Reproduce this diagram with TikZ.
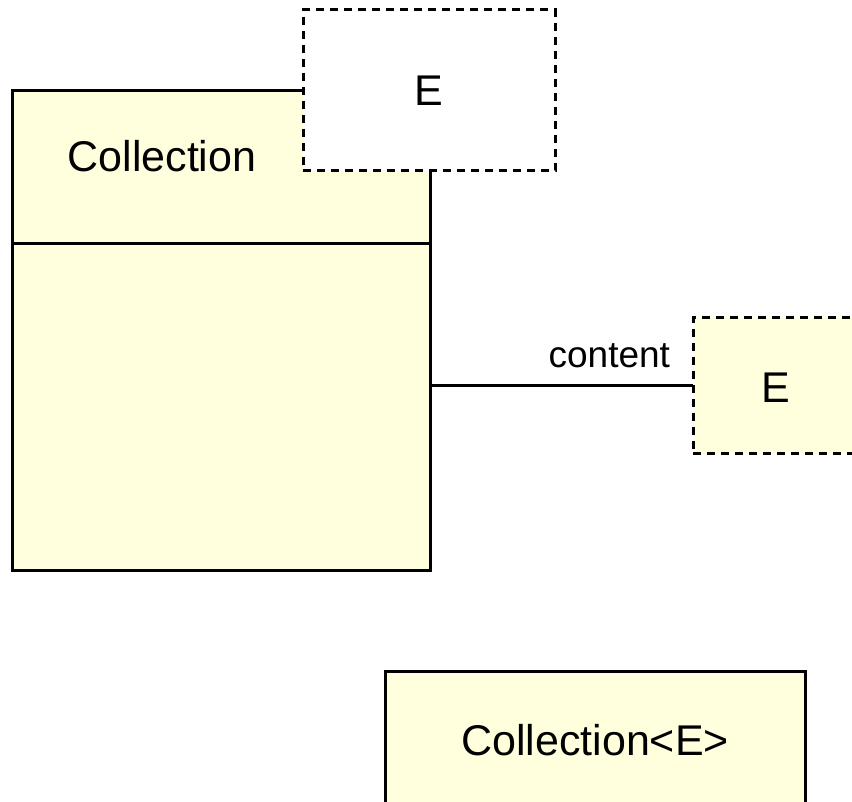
\documentclass[tikz,border=0pt]{standalone}
\usepackage{fontspec}
\setmainfont{Liberation Sans}
\definecolor{classfill}{RGB}{255,255,221}
\tikzset{
  umlbox/.style={rectangle, draw=black, line width=1.5, fill=classfill},
  tmplbox/.style={rectangle, draw=black, line width=1.5, dash pattern=on 4pt off 3pt},
  bigtext/.style={font=\fontsize{21.5}{26}\selectfont},
  smalltext/.style={font=\fontsize{18.5}{22}\selectfont}
}
\begin{document}
\begin{tikzpicture}[y=0.5pt, x=0.5pt, yscale=-1, inner sep=0pt, outer sep=0pt]
\clip (0,0) rectangle (852,802);
% class with parameter
\node[umlbox, minimum width=209pt, minimum height=239.5pt] (coll) at (221,330.5) {};
\draw[line width=1.5] (coll.west |- 0,244) -- (coll.east |- 0,244);
\node[bigtext, anchor=base] (collname) at (162,172) {Collection};
\node[tmplbox, fill=white, bigtext, minimum width=126pt, minimum height=80.5pt] (param) at (429,90.5) {E};
% bound element
\node[tmplbox, fill=classfill, minimum width=100pt, minimum height=67.5pt] (elem) at (793,385.5) {};
\node[bigtext, anchor=base] (elemname) at (776,402) {E};
\draw[line width=1.5] (elem.west -| coll.east) -- (elem.west);
\node[smalltext, anchor=base east] (content) at (670,368) {content};
% bound class
\node[umlbox, bigtext, minimum width=210pt, minimum height=69pt] (bound) at (595,740) {Collection<E>};
\end{tikzpicture}
\end{document}
